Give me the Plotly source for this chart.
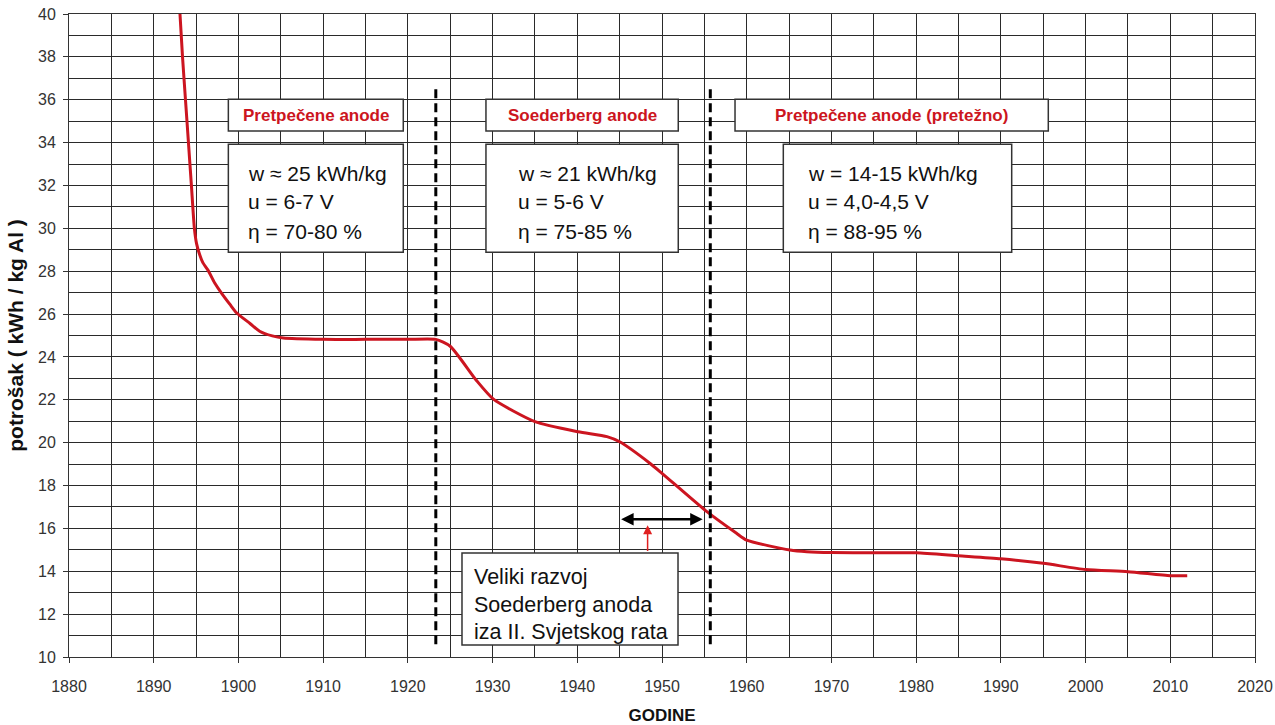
import plotly.graph_objects as go

# ---- data ----
years = [1893.1, 1893.4, 1893.75, 1894.1, 1894.45, 1894.8, 1895.05, 1895.4, 1895.8, 1896.4,
         1897.2, 1898.0, 1899.0, 1899.8, 1901.4, 1902.5, 1904.0, 1905.3, 1910, 1915, 1920,
         1923.3, 1925.0, 1928.1, 1930.1, 1935.0, 1940.1, 1943.5, 1945.0, 1948.6, 1950.0,
         1955.3, 1958.8, 1960.0, 1965.1, 1967.1, 1970, 1975, 1980, 1985, 1990, 1995, 2000,
         2005, 2010, 2012]
consumption = [40.0, 38.0, 36.0, 34.0, 32.0, 30.0, 29.3, 28.8, 28.4, 28.05,
               27.45, 26.98, 26.45, 26.05, 25.55, 25.2, 24.98, 24.88, 24.82, 24.82, 24.82,
               24.82, 24.5, 22.9, 22.03, 20.98, 20.51, 20.28, 20.04, 19.03, 18.57,
               16.78, 15.77, 15.45, 14.99, 14.91, 14.87, 14.86, 14.86, 14.72, 14.58, 14.37, 14.08,
               13.98, 13.79, 13.79]

phase_boundaries = [1923.3, 1955.7]
phase_titles = ["Pretpečene anode", "Soederberg anode", "Pretpečene anode (pretežno)"]
phase_info = [
    ["w ≈ 25 kWh/kg", "u = 6-7 V", "η = 70-80 %"],
    ["w ≈ 21 kWh/kg", "u = 5-6 V", "η = 75-85 %"],
    ["w = 14-15 kWh/kg", "u = 4,0-4,5 V", "η = 88-95 %"],
]
note_lines = ["Veliki razvoj", "Soederberg anoda", "iza II. Svjetskog rata"]
x_title = "GODINE"
y_title = "potrošak ( kWh / kg Al )"

FONT = "Arial, Liberation Sans, sans-serif"
RED = "#CC1520"

fig = go.Figure()

fig.add_trace(go.Scatter(x=years, y=consumption, mode="lines",
                         line=dict(color=RED, width=3, shape="spline", smoothing=0.6),
                         showlegend=False, hoverinfo="skip"))

for xb in phase_boundaries:
    fig.add_trace(go.Scatter(x=[xb, xb], y=[10.6, 36.5], mode="lines",
                             line=dict(color="black", width=3, dash="9px,5px"),
                             showlegend=False, hoverinfo="skip"))

label_boxes = [(1898.81, 1919.46), (1929.22, 1951.92), (1958.62, 1995.6)]
info_boxes = [(1898.81, 1919.46), (1929.22, 1951.92), (1964.32, 1991.28)]
info_text_x = [1900.9, 1932.77, 1967.0]
label_y = (34.54, 36.02)
info_y = (28.88, 33.92)
info_line_y = [32.58, 31.23, 29.87]

box_line = dict(color="#333333", width=1.5)
for i in range(3):
    lx0, lx1 = label_boxes[i]
    fig.add_shape(type="rect", xref="x", yref="y", x0=lx0, x1=lx1, y0=label_y[0], y1=label_y[1],
                  line=box_line, fillcolor="white", layer="above")
    fig.add_annotation(x=(lx0 + lx1) / 2, y=sum(label_y) / 2, text="<b>%s</b>" % phase_titles[i],
                       showarrow=False, font=dict(family=FONT, size=17, color=RED))
    ix0, ix1 = info_boxes[i]
    fig.add_shape(type="rect", xref="x", yref="y", x0=ix0, x1=ix1, y0=info_y[0], y1=info_y[1],
                  line=box_line, fillcolor="white", layer="above")
    for j, line in enumerate(phase_info[i]):
        fig.add_annotation(x=info_text_x[i], y=info_line_y[j], text=line, showarrow=False,
                           xanchor="left", font=dict(family=FONT, size=21, color="#111111"))

fig.add_shape(type="rect", xref="x", yref="y", x0=1926.39, x1=1951.89, y0=10.56, y1=14.85,
              line=box_line, fillcolor="white", layer="above")
for line, yy in zip(note_lines, [13.73, 12.42, 11.17]):
    fig.add_annotation(x=1927.57, y=yy, text=line, showarrow=False, xanchor="left",
                       font=dict(family=FONT, size=21.5, color="#111111"))

fig.add_annotation(x=1954.8, y=16.43, ax=1945.0, ay=16.43, axref="x", ayref="y",
                   showarrow=True, arrowhead=2, startarrowhead=2, arrowside="end+start",
                   arrowsize=1, arrowwidth=2.5, arrowcolor="black", text="")
fig.add_annotation(x=1948.3, y=16.15, ax=1948.3, ay=14.88, axref="x", ayref="y",
                   showarrow=True, arrowhead=2, arrowsize=1.2, arrowwidth=1.5,
                   arrowcolor="#E02020", text="")

grid_col = "#2a2a2a"
fig.update_xaxes(range=[1880, 2020], dtick=10, tick0=1880, showgrid=True, gridcolor=grid_col,
                 gridwidth=1, minor=dict(dtick=5, showgrid=True, gridcolor=grid_col, gridwidth=1),
                 showline=True, linecolor="#333", mirror=True, ticks="outside", ticklen=5,
                 tickcolor="#333", zeroline=False, automargin=False, ticklabelstandoff=10,
                 tickfont=dict(family=FONT, size=16, color="#333"),
                 title=dict(text="<b>%s</b>" % x_title, font=dict(family=FONT, size=17, color="#111"),
                            standoff=16))
fig.update_yaxes(range=[10, 40], dtick=2, tick0=10, showgrid=True, gridcolor=grid_col,
                 gridwidth=1, minor=dict(dtick=1, showgrid=True, gridcolor=grid_col, gridwidth=1),
                 showline=True, linecolor="#333", mirror=True, ticks="outside", ticklen=5,
                 tickcolor="#333", zeroline=False, automargin=False, ticklabelstandoff=4,
                 tickfont=dict(family=FONT, size=16, color="#333"),
                 title=dict(text="<b>%s</b>" % y_title, font=dict(family=FONT, size=21, color="#111"),
                            standoff=8))

fig.update_layout(width=1275, height=725, margin=dict(l=69, r=20, t=14, b=68),
                  paper_bgcolor="white", plot_bgcolor="white", showlegend=False)

fig.write_html("out.html", config={"displayModeBar": False},
               post_script="document.body.style.margin='0px';")
